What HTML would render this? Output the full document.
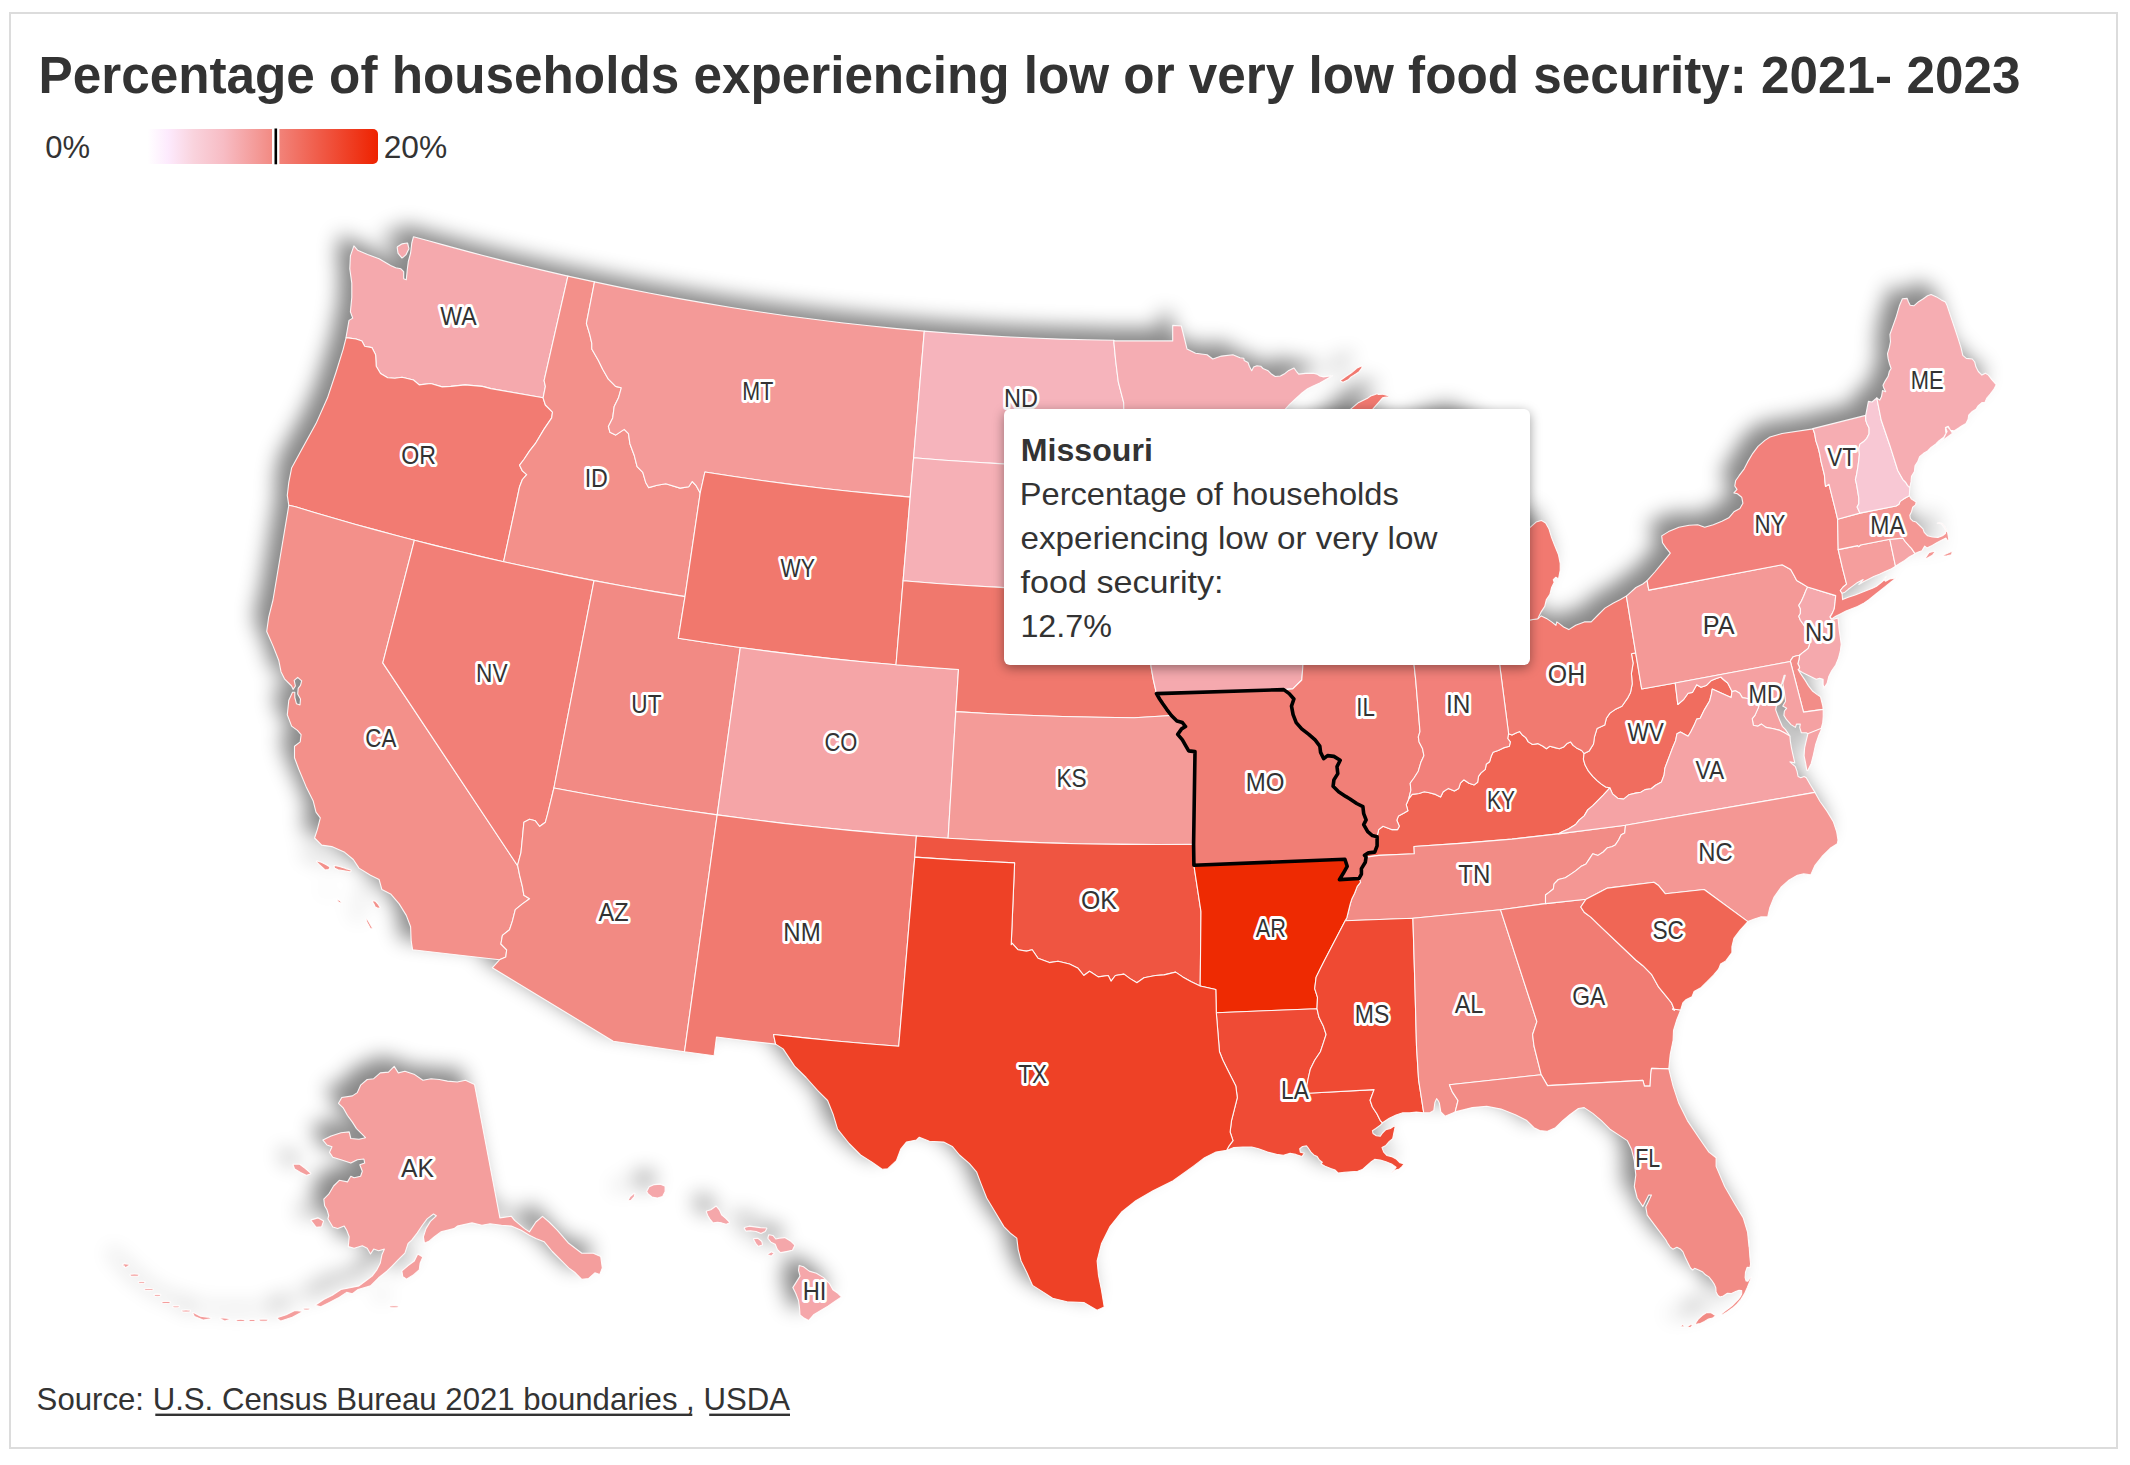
<!DOCTYPE html>
<html lang="en"><head><meta charset="utf-8"><title>Percentage of households experiencing low or very low food security: 2021- 2023</title>
<style>
html,body{margin:0;padding:0;background:#fff;}
body{width:2130px;height:1465px;position:relative;overflow:hidden;font-family:"Liberation Sans",sans-serif;color:#333;}
#frame{position:absolute;left:9px;top:12px;width:2105px;height:1433px;border:2px solid #dcdcdc;}
svg{position:absolute;left:0;top:0;}
text{font-family:"Liberation Sans",sans-serif;}
#tip{position:absolute;left:1003.5px;top:409px;width:526.5px;height:255.5px;background:#fff;border-radius:6px;box-shadow:0 3px 12px rgba(0,0,0,.4);}
</style></head><body>
<div id="frame"></div>
<svg id="map" width="2130" height="1465" viewBox="0 0 2130 1465">
<defs><filter id="sh" x="-5%" y="-5%" width="110%" height="110%" color-interpolation-filters="sRGB"><feGaussianBlur in="SourceAlpha" stdDeviation="10"/><feOffset dx="-12" dy="-12" result="b"/><feFlood flood-color="#000" flood-opacity="0.47"/><feComposite in2="b" operator="in"/><feMerge><feMergeNode/><feMergeNode in="SourceGraphic"/></feMerge></filter></defs>
<g filter="url(#sh)" stroke="#fff" stroke-width="1.1" stroke-opacity="0.9" stroke-linejoin="round">
<path d="M413.5,236.7L428.5,240.7L442.4,244.6L456.2,248.4L470.1,252.1L484.0,255.8L498.0,259.4L511.9,262.9L525.9,266.3L539.9,269.6L553.9,272.9L567.9,276.1L544.1,380.6L545.4,386.4L543.1,397.8L490.9,388.6L482.3,386.4L465.1,384.9L450.8,386.4L442.2,386.9L430.7,383.5L419.2,384.9L413.5,380.0L402.0,377.2L394.9,378.3L387.7,377.8L380.5,373.5L376.2,366.3L375.6,354.8L371.9,347.6L364.7,346.2L361.9,341.1L356.1,339.0L346.1,337.6L346.1,337.0L347.5,329.0L349.0,320.4L352.7,318.1L350.4,311.8L351.8,297.5L351.8,283.1L349.8,268.8L350.4,255.9L353.9,245.9L357.6,250.2L367.6,254.5L379.1,258.8L390.6,265.4L395.7,267.7L400.9,268.8L403.7,271.7L403.7,278.8L406.3,279.7L407.2,270.2L408.3,261.6L410.6,253.0L411.8,243.0L413.5,236.7ZM397.4,246.8L397.2,247.4L398.0,253.1L398.1,253.4L401.6,257.7L402.0,257.9L402.4,257.8L405.8,254.9L406.0,254.7L408.8,249.0L408.9,248.6L407.7,243.5L407.5,243.1L407.1,243.0L401.9,243.9L401.7,244.0Z" fill="#f5a9ad"/>
<path d="M346.1,337.6L356.1,339.0L361.9,341.1L364.7,346.2L371.9,347.6L375.6,354.8L376.2,366.3L380.5,373.5L387.7,377.8L394.9,378.3L402.0,377.2L413.5,380.0L419.2,384.9L430.7,383.5L442.2,386.9L450.8,386.4L465.1,384.9L482.3,386.4L490.9,388.6L543.1,397.8L545.4,405.0L552.5,412.2L551.7,417.9L543.9,429.4L535.3,443.7L529.6,450.9L523.9,459.5L519.6,465.2L522.4,470.9L526.7,474.7L522.4,479.5L519.6,486.7L503.6,561.7L481.3,556.6L458.9,551.3L436.7,545.9L414.4,540.2L394.5,535.0L374.6,529.6L354.8,524.2L335.0,518.5L315.2,512.7L295.5,506.8L288.8,505.3L287.3,495.3L288.8,482.4L291.6,468.1L301.7,449.4L316.0,423.6L327.5,397.8L336.1,372.0L343.2,349.1L346.1,337.6Z" fill="#f27b72"/>
<path d="M567.9,276.1L594.5,281.9L586.4,323.3L589.8,334.7L591.8,343.3L591.8,349.1L598.4,360.6L602.7,369.2L608.4,379.2L615.6,386.4L621.3,387.8L618.5,397.8L614.2,406.4L612.7,417.9L608.4,426.5L609.9,432.2L615.6,435.1L624.2,429.4L628.5,433.7L629.9,443.7L634.2,455.2L637.1,466.6L642.8,472.4L645.7,482.4L648.6,487.6L657.2,485.3L665.8,483.8L680.1,488.1L688.7,486.7L692.2,481.5L695.9,485.3L700.2,493.0L685.0,596.6L654.6,591.6L624.3,586.2L594.0,580.6L563.8,574.6L533.7,568.3L503.6,561.7L519.6,486.7L522.4,479.5L526.7,474.7L522.4,470.9L519.6,465.2L523.9,459.5L529.6,450.9L535.3,443.7L543.9,429.4L551.7,417.9L552.5,412.2L545.4,405.0L543.1,397.8L545.4,386.4L544.1,380.6L567.9,276.1Z" fill="#f3908a"/>
<path d="M288.8,505.3L295.5,506.8L315.2,512.7L335.0,518.5L354.8,524.2L374.6,529.6L394.5,535.0L414.4,540.2L382.8,662.9L518.6,867.2L517.6,865.2L519.6,875.2L522.4,886.7L523.9,895.3L529.6,898.7L522.4,903.9L515.3,909.6L512.4,921.1L509.5,929.7L502.4,935.4L500.9,944.0L506.7,949.8L505.8,956.9L499.5,959.8L412.6,949.8L411.2,941.2L410.6,926.8L406.3,915.4L399.2,903.9L390.6,893.9L381.9,889.6L379.1,879.5L370.5,875.2L359.0,868.1L353.3,859.5L344.7,852.3L331.8,846.6L321.7,845.1L314.6,838.0L317.4,829.4L320.3,817.9L316.0,812.2L313.1,800.7L306.0,786.4L298.8,769.2L294.5,757.7L294.5,746.2L300.2,741.9L301.1,734.7L297.4,730.4L291.6,726.1L287.3,714.7L288.8,700.3L290.8,696.0L292.5,692.3L294.8,692.3L294.8,697.5L296.5,703.8L300.0,704.9L300.5,698.9L297.7,694.0L298.2,688.3L300.5,685.4L301.7,680.8L297.7,677.4L294.2,680.3L295.4,686.0L293.1,689.4L291.6,686.0L284.5,678.8L281.0,671.7L278.7,660.2L273.0,645.9L266.7,631.5L268.7,617.2L273.0,600.0L288.8,505.3ZM377.8,908.3L378.2,908.3L379.8,907.9L380.2,907.6L380.1,907.1L378.1,904.2L378.1,904.2L375.6,901.3L375.3,901.1L372.8,900.7L372.4,900.8L372.2,901.2L372.3,901.6L373.9,904.0L375.1,906.8L375.4,907.1ZM370.2,928.2L370.5,928.4L371.7,928.8L372.2,928.8L372.4,928.4L372.4,928.0L370.8,925.2L368.7,921.5L368.7,921.4L367.0,919.0L366.7,918.8L366.4,918.8L366.1,919.0L366.1,919.4L366.5,921.1L366.5,921.2L368.1,924.4L368.2,924.5ZM338.1,869.8L338.2,869.9L344.0,870.7L350.1,871.9L350.4,871.9L350.7,871.6L351.1,870.8L351.1,870.3L350.8,870.0L345.9,868.6L339.3,866.5L339.3,866.5L334.8,865.5L334.4,865.5L334.1,865.8L334.1,866.2L334.5,868.0L334.8,868.3ZM340.6,903.0L341.0,903.0L341.3,902.6L341.2,902.1L340.0,900.7L339.8,900.6L337.7,899.8L337.3,899.8L337.0,900.0L337.0,900.3L337.1,900.7L338.6,902.1L338.8,902.2ZM322.4,867.3L324.8,869.7L325.3,869.9L328.6,869.5L329.0,869.2L329.8,867.5L329.8,867.1L329.6,866.8L326.3,864.8L326.3,864.7L321.4,862.3L321.3,862.2L317.2,861.0L316.7,861.1L316.5,861.5L316.6,861.9L319.1,864.4L319.1,864.4Z" fill="#f3908a"/>
<path d="M414.4,540.2L436.7,545.9L458.9,551.3L481.3,556.6L503.6,561.7L533.7,568.3L563.8,574.6L594.0,580.6L553.9,788.0L547.7,813.6L545.4,822.2L539.6,826.5L535.3,820.8L529.6,819.3L523.9,822.2L522.4,838.0L521.0,852.3L517.6,865.2L518.6,867.2L382.8,662.9L414.4,540.2Z" fill="#f27f77"/>
<path d="M594.0,580.6L624.3,586.2L654.6,591.6L685.0,596.6L678.3,638.3L709.3,643.0L740.3,647.5L717.2,814.9L684.4,810.2L651.7,805.2L619.0,799.8L586.4,794.0L553.9,788.0L594.0,580.6Z" fill="#f28a84"/>
<path d="M553.9,788.0L586.4,794.0L619.0,799.8L651.7,805.2L684.4,810.2L717.2,814.9L684.5,1051.8L613.3,1041.2L492.3,967.8L499.5,959.8L505.8,956.9L506.7,949.8L500.9,944.0L502.4,935.4L509.5,929.7L512.4,921.1L515.3,909.6L522.4,903.9L529.6,898.7L523.9,895.3L522.4,886.7L519.6,875.2L517.6,865.2L521.0,852.3L522.4,838.0L523.9,822.2L529.6,819.3L535.3,820.8L539.6,826.5L545.4,822.2L547.7,813.6L553.9,788.0Z" fill="#f28a83"/>
<path d="M594.5,281.9L621.7,287.6L649.0,293.0L676.3,298.1L703.7,302.9L731.2,307.5L758.6,311.7L786.2,315.7L813.7,319.3L841.3,322.7L869.0,325.8L896.6,328.6L924.3,331.1L913.6,457.7L910.2,497.1L880.8,494.4L851.4,491.5L822.0,488.2L792.7,484.6L763.4,480.7L734.1,476.5L704.9,472.0L700.2,493.0L695.9,485.3L692.2,481.5L688.7,486.7L680.1,488.1L665.8,483.8L657.2,485.3L648.6,487.6L645.7,482.4L642.8,472.4L637.1,466.6L634.2,455.2L629.9,443.7L628.5,433.7L624.2,429.4L615.6,435.1L609.9,432.2L608.4,426.5L612.7,417.9L614.2,406.4L618.5,397.8L621.3,387.8L615.6,386.4L608.4,379.2L602.7,369.2L598.4,360.6L591.8,349.1L591.8,343.3L589.8,334.7L586.4,323.3L594.5,281.9Z" fill="#f49a98"/>
<path d="M700.2,493.0L704.9,472.0L734.1,476.5L763.4,480.7L792.7,484.6L822.0,488.2L851.4,491.5L880.8,494.4L910.2,497.1L903.1,580.8L896.0,664.8L864.8,662.0L833.6,658.9L802.5,655.4L771.4,651.6L740.3,647.5L709.3,643.0L678.3,638.3L685.0,596.6L700.2,493.0Z" fill="#f1786d"/>
<path d="M740.3,647.5L771.4,651.6L802.5,655.4L833.6,658.9L864.8,662.0L896.0,664.8L927.2,667.3L958.5,669.5L955.8,711.6L948.1,838.2L916.4,836.0L883.1,833.4L849.8,830.4L816.6,827.0L783.4,823.4L750.3,819.3L717.2,814.9L740.3,647.5Z" fill="#f5a5a7"/>
<path d="M717.2,814.9L750.3,819.3L783.4,823.4L816.6,827.0L849.8,830.4L883.1,833.4L916.4,836.0L914.8,857.1L898.7,1046.2L867.4,1043.7L836.1,1041.0L804.8,1037.9L773.5,1034.5L775.6,1044.1L775.6,1044.1L746.1,1040.7L716.5,1037.0L714.1,1055.8L684.5,1051.8L717.2,814.9Z" fill="#f17a70"/>
<path d="M924.3,331.1L951.4,333.2L978.4,335.1L1005.4,336.7L1032.5,338.0L1059.6,339.1L1086.6,339.8L1113.7,340.3L1115.7,361.0L1118.3,381.8L1123.7,402.6L1124.1,423.5L1126.3,444.3L1131.6,465.3L1131.6,467.8L1100.4,467.4L1069.3,466.6L1038.1,465.5L1006.9,464.1L975.8,462.3L944.7,460.2L913.6,457.7L924.3,331.1Z" fill="#f6b4bc"/>
<path d="M913.6,457.7L944.7,460.2L975.8,462.3L1006.9,464.1L1038.1,465.5L1069.3,466.6L1100.4,467.4L1131.6,467.8L1123.0,481.9L1134.7,494.6L1134.3,570.1L1129.8,570.1L1130.4,578.5L1134.3,586.9L1131.2,597.5L1134.1,612.6L1126.5,608.0L1117.4,601.1L1105.2,596.8L1090.0,596.9L1071.8,590.2L1038.1,589.1L1004.3,587.6L970.6,585.7L936.8,583.5L903.1,580.8L910.2,497.1L913.6,457.7Z" fill="#f6b0b6"/>
<path d="M903.1,580.8L936.8,583.5L970.6,585.7L1004.3,587.6L1038.1,589.1L1071.8,590.2L1090.0,596.9L1105.2,596.8L1117.4,601.1L1126.5,608.0L1134.1,612.6L1137.2,620.7L1140.2,633.3L1144.8,646.0L1150.1,656.5L1151.1,667.1L1153.3,679.7L1156.5,693.6L1159.6,699.0L1162.8,703.8L1166.7,709.3L1171.4,715.5L1134.2,717.7L1098.5,717.3L1062.8,716.5L1027.1,715.3L991.5,713.7L955.8,711.6L958.5,669.5L927.2,667.3L896.0,664.8L903.1,580.8Z" fill="#f0786d"/>
<path d="M955.8,711.6L991.5,713.7L1027.1,715.3L1062.8,716.5L1098.5,717.3L1134.2,717.7L1171.4,715.5L1176.9,721.0L1182.4,722.6L1185.5,726.5L1181.6,728.9L1177.7,734.4L1182.4,739.9L1185.5,745.4L1188.7,750.9L1195.0,751.6L1193.6,844.2L1158.5,844.5L1123.4,844.4L1088.3,844.0L1053.3,843.1L1018.2,841.9L983.1,840.2L948.1,838.2L955.8,711.6Z" fill="#f49b98"/>
<path d="M916.4,836.0L948.1,838.2L983.1,840.2L1018.2,841.9L1053.3,843.1L1088.3,844.0L1123.4,844.4L1158.5,844.5L1193.6,844.2L1193.9,865.3L1201.0,911.7L1200.2,986.0L1200.2,986.1L1191.3,981.8L1182.7,976.9L1175.6,972.1L1164.1,974.9L1155.5,975.5L1144.0,977.8L1136.9,982.7L1129.7,978.4L1124.0,974.1L1115.4,975.5L1111.1,981.2L1108.2,975.5L1098.2,976.9L1089.6,971.2L1083.8,975.5L1078.1,968.3L1069.5,964.0L1058.0,961.2L1049.4,962.6L1038.0,958.3L1032.2,949.7L1026.5,951.1L1017.9,949.7L1012.2,943.4L1011.2,944.7L1014.6,862.9L981.3,861.3L948.1,859.4L914.8,857.1L916.4,836.0Z" fill="#ef5541"/>
<path d="M1156.5,693.6L1283.7,689.6L1289.2,693.6L1293.9,699.0L1291.5,706.1L1293.1,714.7L1296.2,722.6L1301.7,728.9L1308.8,734.4L1315.1,739.9L1319.8,746.1L1320.6,752.4L1323.7,758.7L1327.6,755.6L1333.9,756.4L1340.2,760.3L1337.0,766.6L1337.8,773.6L1333.9,779.9L1333.1,786.2L1338.6,791.7L1345.7,796.4L1349.6,798.7L1356.7,803.5L1362.9,806.6L1363.7,813.7L1366.1,819.9L1363.7,824.6L1367.7,831.7L1372.4,835.6L1377.1,836.7L1377.1,845.8L1374.7,852.1L1368.4,852.9L1364.5,855.3L1366.1,857.1L1365.3,862.3L1361.4,868.6L1361.4,874.1L1359.0,878.5L1339.4,879.6L1343.3,873.3L1347.2,866.3L1344.9,859.2L1193.9,865.3L1193.6,844.2L1195.0,751.6L1188.7,750.9L1185.5,745.4L1182.4,739.9L1177.7,734.4L1181.6,728.9L1185.5,726.5L1182.4,722.6L1176.9,721.0L1171.4,715.5L1166.7,709.3L1162.8,703.8L1159.6,699.0L1156.5,693.6Z" fill="#f17e75"/>
<path d="M1377.1,836.7L1378.7,829.6L1383.0,826.2L1391.6,829.6L1397.6,829.6L1399.3,826.2L1396.8,820.2L1398.5,815.9L1403.6,813.3L1407.9,810.7L1406.2,804.7L1408.8,798.7L1412.2,794.4L1419.1,793.5L1424.3,791.8L1429.4,792.7L1435.5,794.4L1440.6,797.0L1443.2,791.8L1448.4,788.4L1454.4,790.9L1458.7,788.4L1460.4,783.2L1463.8,779.8L1469.0,783.2L1474.2,784.9L1477.6,782.3L1478.5,776.3L1481.0,772.9L1485.3,769.4L1486.2,764.3L1489.6,761.7L1491.4,755.7L1493.1,752.2L1498.2,750.5L1503.4,747.9L1509.4,746.2L1510.3,741.9L1507.7,738.5L1508.6,733.7L1512.0,735.0L1515.4,733.3L1519.7,731.6L1522.3,735.0L1525.8,737.6L1528.3,741.9L1532.6,744.5L1537.8,743.6L1543.0,746.2L1546.4,748.8L1549.8,746.2L1554.1,747.4L1559.3,748.8L1563.6,747.1L1567.0,743.6L1570.5,741.9L1573.1,745.4L1576.5,747.9L1581.7,750.5L1584.1,753.5L1583.4,759.1L1585.1,765.1L1588.5,771.2L1592.8,776.3L1597.1,780.6L1601.4,784.1L1605.7,787.0L1609.9,787.9L1603.2,795.2L1598.0,800.4L1592.8,805.6L1587.7,809.9L1584.2,815.9L1579.1,820.2L1575.6,824.5L1568.8,828.8L1562.7,831.4L1558.1,833.9L1512.0,839.1L1460.4,843.4L1414.0,846.5L1414.3,853.7L1378.7,855.4L1366.1,857.1L1364.5,855.3L1368.4,852.9L1374.7,852.1L1377.1,845.8L1377.1,836.7Z" fill="#f06453"/>
<path d="M1366.1,857.1L1378.7,855.4L1414.3,853.7L1414.0,846.5L1460.4,843.4L1512.0,839.1L1558.1,833.9L1625.5,825.3L1624.7,833.1L1621.2,834.8L1618.6,840.0L1615.2,845.1L1611.8,846.8L1607.5,847.7L1603.2,852.0L1598.0,855.4L1592.8,853.7L1589.4,858.9L1586.0,864.0L1580.8,866.6L1575.6,870.9L1570.5,874.4L1565.3,877.8L1558.4,879.5L1554.1,883.8L1553.3,889.0L1549.0,892.4L1545.5,895.0L1545.5,903.6L1500.5,909.7L1412.9,918.2L1345.2,920.8L1346.9,917.4L1348.6,910.5L1350.3,903.6L1352.0,898.4L1354.6,893.3L1357.2,886.4L1360.6,882.1L1359.0,878.5L1361.4,874.1L1361.4,868.6L1365.3,862.3L1366.1,857.1Z" fill="#f28c86"/>
<path d="M1193.9,865.3L1344.9,859.2L1347.2,866.3L1343.3,873.3L1339.4,879.6L1359.0,878.5L1360.6,882.1L1357.2,886.4L1354.6,893.3L1352.0,898.4L1350.3,903.6L1348.6,910.5L1346.9,917.4L1345.2,920.8L1324.7,960.0L1320.4,968.6L1316.1,977.2L1314.7,988.7L1317.5,997.3L1317.0,1008.7L1216.3,1012.7L1215.8,989.5L1200.2,986.0L1201.0,911.7L1193.9,865.3Z" fill="#ee2a02"/>
<path d="M1216.3,1012.7L1317.0,1008.7L1319.0,1017.3L1323.3,1025.9L1326.1,1034.5L1323.3,1043.1L1320.4,1051.7L1314.7,1060.3L1310.4,1068.9L1308.4,1077.5L1306.7,1086.1L1307.5,1093.3L1374.1,1089.6L1370.1,1100.3L1372.4,1107.0L1376.9,1113.8L1380.3,1120.6L1382.5,1122.8L1380.3,1125.1L1375.8,1128.5L1372.4,1130.7L1373.0,1133.5L1376.3,1135.8L1380.3,1136.3L1382.5,1133.0L1385.9,1129.6L1390.4,1128.5L1395.5,1125.1L1393.8,1133.0L1392.7,1138.6L1389.3,1141.4L1385.9,1145.4L1382.0,1147.6L1383.7,1152.1L1387.0,1155.5L1391.5,1156.6L1396.1,1158.9L1400.0,1162.8L1404.2,1163.9L1401.7,1166.8L1399.4,1169.0L1395.5,1170.1L1391.5,1173.0L1393.8,1170.1L1396.1,1167.3L1391.5,1163.9L1385.9,1161.7L1380.3,1160.0L1374.6,1159.4L1371.3,1161.7L1366.8,1165.6L1362.3,1169.6L1357.7,1171.3L1351.0,1171.8L1344.2,1172.4L1338.0,1173.0L1335.2,1170.1L1330.7,1168.5L1325.1,1166.2L1321.1,1163.9L1322.3,1162.3L1319.4,1160.0L1317.2,1156.6L1313.8,1154.9L1311.0,1152.1L1308.7,1148.7L1306.5,1145.9L1302.5,1146.5L1299.7,1148.7L1300.3,1152.1L1304.2,1153.2L1302.0,1156.6L1295.8,1154.4L1290.1,1153.2L1283.4,1155.3L1276.6,1154.4L1267.6,1152.1L1258.6,1148.7L1251.8,1147.0L1242.8,1147.0L1233.8,1147.6L1226.5,1150.4L1228.7,1146.4L1233.0,1140.6L1230.1,1132.0L1231.5,1120.6L1234.4,1109.1L1237.3,1097.6L1235.8,1086.1L1231.5,1077.5L1227.2,1068.9L1222.9,1060.3L1219.5,1051.7L1216.3,1012.7Z" fill="#ef4b35"/>
<path d="M1345.2,920.8L1412.9,918.2L1415.0,988.7L1416.5,1046.0L1418.6,1080.0L1423.7,1112.7L1416.3,1112.1L1409.6,1112.7L1402.8,1112.7L1396.1,1114.9L1389.3,1118.3L1382.5,1122.8L1380.3,1120.6L1376.9,1113.8L1372.4,1107.0L1370.1,1100.3L1374.1,1089.6L1307.5,1093.3L1306.7,1086.1L1308.4,1077.5L1310.4,1068.9L1314.7,1060.3L1320.4,1051.7L1323.3,1043.1L1326.1,1034.5L1323.3,1025.9L1319.0,1017.3L1317.0,1008.7L1317.5,997.3L1314.7,988.7L1316.1,977.2L1320.4,968.6L1324.7,960.0L1345.2,920.8Z" fill="#ef4a33"/>
<path d="M1412.9,918.2L1500.5,909.7L1536.9,1021.6L1532.6,1034.5L1534.0,1046.0L1538.3,1063.2L1541.2,1074.7L1449.4,1084.7L1452.3,1091.9L1458.0,1100.5L1455.2,1111.9L1445.1,1116.2L1440.8,1111.9L1439.4,1103.3L1438.6,1101.4L1436.6,1098.6L1434.9,1102.5L1433.8,1110.4L1429.9,1112.7L1423.7,1112.7L1418.6,1080.0L1416.5,1046.0L1415.0,988.7L1412.9,918.2Z" fill="#f3908a"/>
<path d="M1500.5,909.7L1545.5,903.6L1586.0,899.3L1580.8,907.0L1584.2,912.2L1591.1,917.4L1598.0,924.2L1635.8,960.0L1642.9,965.7L1651.5,974.3L1658.7,987.2L1665.9,995.8L1671.6,1003.0L1674.5,1010.2L1672.5,1009.0L1680.7,1010.0L1676.6,1020.3L1673.5,1030.5L1673.1,1040.3L1670.2,1054.6L1668.8,1068.9L1651.5,1068.4L1650.7,1074.7L1650.1,1086.1L1644.4,1086.1L1642.9,1080.4L1547.5,1085.6L1541.2,1074.7L1538.3,1063.2L1534.0,1046.0L1532.6,1034.5L1536.9,1021.6L1500.5,909.7Z" fill="#f17c73"/>
<path d="M1455.2,1111.9L1458.0,1100.5L1452.3,1091.9L1449.4,1084.7L1541.2,1074.7L1547.5,1085.6L1642.9,1080.4L1644.4,1086.1L1650.1,1086.1L1650.7,1074.7L1651.5,1068.4L1668.8,1068.9L1673.1,1086.1L1678.8,1103.3L1687.4,1120.6L1698.9,1137.8L1708.9,1152.1L1716.1,1157.8L1716.1,1166.4L1724.7,1186.5L1734.7,1203.7L1743.3,1218.0L1747.6,1232.4L1749.0,1246.7L1748.9,1240.0L1749.2,1246.8L1749.9,1257.1L1750.6,1263.9L1749.9,1267.6L1747.2,1267.3L1745.5,1272.1L1745.1,1277.5L1746.1,1281.0L1747.8,1281.3L1749.9,1278.2L1751.6,1277.2L1749.9,1281.0L1747.2,1287.8L1744.4,1293.9L1741.0,1299.4L1736.9,1304.2L1732.2,1308.3L1727.4,1311.7L1722.6,1314.7L1720.9,1314.4L1724.6,1311.3L1728.7,1308.3L1732.2,1305.5L1735.6,1302.1L1738.3,1299.4L1740.3,1296.7L1741.7,1293.9L1741.7,1290.5L1739.0,1290.2L1735.6,1291.5L1731.5,1293.6L1727.4,1293.2L1723.3,1296.0L1719.9,1297.0L1717.8,1295.3L1716.1,1291.9L1715.8,1287.8L1714.4,1284.4L1711.7,1280.3L1708.9,1276.9L1705.5,1274.8L1702.8,1272.1L1698.7,1270.0L1694.6,1268.3L1692.6,1270.0L1690.5,1268.0L1687.8,1262.5L1685.1,1257.1L1683.0,1251.9L1680.3,1248.9L1676.9,1247.2L1672.8,1249.2L1670.0,1246.8L1667.3,1242.7L1665.9,1240.0L1655.8,1226.6L1647.2,1215.2L1645.8,1207.1L1651.5,1195.1L1648.7,1195.1L1642.9,1206.6L1637.2,1198.0L1634.3,1186.5L1635.8,1175.0L1634.3,1160.7L1631.5,1149.2L1627.2,1140.6L1618.6,1134.9L1610.0,1129.2L1601.4,1120.6L1592.8,1113.4L1584.2,1107.6L1578.4,1108.5L1569.8,1114.8L1562.7,1120.6L1555.5,1127.7L1546.9,1131.4L1539.7,1130.6L1534.0,1127.7L1526.8,1120.6L1515.4,1114.8L1501.0,1109.1L1486.7,1106.2L1472.4,1107.6L1455.2,1111.9ZM1700.2,1323.5L1700.3,1323.4L1704.4,1321.4L1704.4,1321.4L1708.5,1319.0L1712.5,1318.0L1712.7,1317.9L1715.1,1316.2L1715.3,1315.8L1715.0,1315.3L1711.3,1312.9L1711.0,1312.8L1706.9,1312.5L1706.6,1312.6L1702.5,1315.3L1702.4,1315.4L1698.3,1319.1L1698.2,1319.2L1695.5,1323.3L1695.4,1323.7L1695.7,1324.1L1696.1,1324.2ZM1692.3,1325.7L1692.4,1325.3L1692.3,1324.9L1691.9,1324.8L1690.2,1324.8L1689.8,1324.9L1687.8,1326.6L1687.6,1327.0L1687.8,1327.4L1688.2,1327.6L1690.6,1327.2L1690.9,1327.1ZM1683.1,1324.7L1682.7,1324.4L1682.3,1324.6L1680.9,1326.0L1680.7,1326.3L1680.9,1326.7L1681.3,1326.9L1683.7,1326.9L1684.1,1326.8L1684.2,1326.4L1684.1,1326.0Z" fill="#f28b85"/>
<path d="M914.8,857.1L948.1,859.4L981.3,861.3L1014.6,862.9L1011.2,944.7L1012.2,943.4L1017.9,949.7L1026.5,951.1L1032.2,949.7L1038.0,958.3L1049.4,962.6L1058.0,961.2L1069.5,964.0L1078.1,968.3L1083.8,975.5L1089.6,971.2L1098.2,976.9L1108.2,975.5L1111.1,981.2L1115.4,975.5L1124.0,974.1L1129.7,978.4L1136.9,982.7L1144.0,977.8L1155.5,975.5L1164.1,974.9L1175.6,972.1L1182.7,976.9L1191.3,981.8L1200.2,986.1L1200.2,986.0L1215.8,989.5L1216.3,1012.7L1219.5,1051.7L1222.9,1060.3L1227.2,1068.9L1231.5,1077.5L1235.8,1086.1L1237.3,1097.6L1234.4,1109.1L1231.5,1120.6L1230.1,1132.0L1233.0,1140.6L1228.7,1146.4L1226.5,1150.4L1216.1,1152.1L1204.6,1157.8L1193.1,1166.4L1173.1,1180.8L1153.0,1190.8L1135.8,1200.8L1121.4,1212.3L1110.0,1226.6L1101.4,1243.8L1097.1,1261.0L1098.5,1275.4L1101.4,1289.7L1104.2,1306.9L1097.1,1310.3L1084.2,1302.6L1067.0,1301.7L1052.6,1298.3L1044.0,1292.6L1032.6,1285.4L1026.8,1272.5L1021.1,1261.0L1018.2,1249.6L1016.8,1238.1L1011.1,1233.8L1003.9,1226.6L995.3,1212.3L986.7,1198.0L981.0,1183.6L976.7,1172.2L969.5,1163.6L959.5,1155.0L952.3,1146.4L943.7,1142.1L929.4,1141.2L919.3,1137.2L916.5,1140.0L906.4,1142.1L900.7,1149.2L896.4,1160.7L887.8,1168.7L882.1,1169.3L872.0,1162.1L860.6,1155.0L849.1,1143.5L837.6,1129.2L833.3,1114.8L827.6,1100.5L817.5,1090.4L806.1,1077.5L794.6,1066.1L783.1,1048.9L775.6,1044.1L773.5,1034.5L804.8,1037.9L836.1,1041.0L867.4,1043.7L898.7,1046.2L914.8,857.1Z" fill="#ee4126"/>
<path d="M1584.1,753.5L1589.2,750.9L1593.5,744.0L1594.4,737.2L1597.0,728.6L1604.7,725.1L1606.4,718.2L1609.9,713.1L1615.0,709.6L1621.9,706.2L1627.9,697.6L1630.5,692.4L1632.2,683.8L1631.4,673.5L1633.1,663.2L1631.4,653.7L1635.7,652.9L1641.7,689.0L1675.2,683.0L1677.8,704.5L1683.8,699.3L1688.1,693.3L1692.4,692.4L1696.7,684.7L1701.0,687.3L1706.2,685.6L1711.4,680.4L1715.7,678.7L1720.8,677.0L1723.4,679.5L1727.7,683.0L1730.3,688.1L1732.0,691.6L1731.1,697.6L1712.2,689.0L1711.4,694.2L1709.6,701.0L1704.5,709.6L1700.2,718.2L1696.7,719.1L1694.2,725.1L1690.7,732.0L1688.1,736.3L1680.4,732.0L1677.0,733.7L1675.6,740.6L1672.7,747.5L1670.1,754.4L1667.5,761.2L1664.9,768.1L1664.1,775.0L1661.5,781.9L1655.5,785.3L1651.2,788.8L1645.1,789.6L1640.8,792.2L1635.7,793.1L1628.8,794.8L1623.6,799.1L1617.6,798.2L1612.5,793.9L1609.9,787.9L1605.7,787.0L1601.4,784.1L1597.1,780.6L1592.8,776.3L1588.5,771.2L1585.1,765.1L1583.4,759.1L1584.1,753.5Z" fill="#f06d5f"/>
<path d="M1494.6,625.5L1537.8,618.8L1541.3,615.9L1546.4,618.4L1551.6,621.9L1555.9,625.3L1556.8,621.9L1559.3,623.6L1563.6,627.0L1568.8,629.6L1575.7,625.3L1584.3,621.9L1591.2,621.9L1598.0,615.0L1604.9,608.1L1613.5,603.0L1620.4,599.5L1626.4,596.1L1635.7,652.9L1631.4,653.7L1633.1,663.2L1631.4,673.5L1632.2,683.8L1630.5,692.4L1627.9,697.6L1621.9,706.2L1615.0,709.6L1609.9,713.1L1606.4,718.2L1604.7,725.1L1597.0,728.6L1594.4,737.2L1593.5,744.0L1589.2,750.9L1584.1,753.5L1581.7,750.5L1576.5,747.9L1573.1,745.4L1570.5,741.9L1567.0,743.6L1563.6,747.1L1559.3,748.8L1554.1,747.4L1549.8,746.2L1546.4,748.8L1543.0,746.2L1537.8,743.6L1532.6,744.5L1528.3,741.9L1525.8,737.6L1522.3,735.0L1519.7,731.6L1515.4,733.3L1512.0,735.0L1508.6,733.7L1494.6,625.5Z" fill="#f17a70"/>
<path d="M1626.4,596.1L1635.9,587.5L1642.8,584.0L1647.1,580.6L1648.8,590.1L1782.1,564.8L1790.7,569.4L1794.1,575.4L1796.7,580.6L1802.7,584.0L1807.0,586.6L1807.6,587.0L1805.9,590.5L1803.6,596.2L1801.3,601.3L1798.8,605.4L1800.4,608.8L1800.4,613.4L1798.8,616.3L1800.4,620.3L1804.1,625.4L1808.2,630.6L1810.5,637.5L1809.3,645.5L1808.2,648.4L1805.3,650.7L1802.4,652.9L1799.6,655.2L1796.7,655.8L1793.3,656.7L1791.0,659.8L1790.4,661.5L1675.2,683.0L1641.7,689.0L1635.7,652.9L1626.4,596.1Z" fill="#f49997"/>
<path d="M1807.6,587.0L1835.7,595.6L1835.1,601.9L1834.0,609.9L1832.2,613.4L1829.9,616.8L1831.1,619.1L1834.5,619.1L1838.0,618.0L1838.5,622.6L1839.1,629.4L1840.3,637.5L1841.2,644.3L1840.3,651.2L1838.5,658.1L1835.7,665.0L1831.7,670.7L1828.8,676.5L1827.1,683.3L1824.0,687.9L1823.1,684.5L1823.1,679.3L1819.6,678.2L1816.2,679.3L1811.6,677.0L1807.0,674.7L1802.4,672.4L1798.4,670.1L1799.6,667.3L1797.8,663.8L1799.0,659.3L1799.6,655.2L1802.4,652.9L1805.3,650.7L1808.2,648.4L1809.3,645.5L1810.5,637.5L1808.2,630.6L1804.1,625.4L1800.4,620.3L1798.8,616.3L1800.4,613.4L1800.4,608.8L1798.8,605.4L1801.3,601.3L1803.6,596.2L1805.9,590.5L1807.6,587.0Z" fill="#f5a9ad"/>
<path d="M1790.4,661.5L1791.0,659.8L1793.3,656.7L1796.7,655.8L1799.6,655.2L1799.0,659.3L1797.8,663.8L1799.6,667.3L1798.4,670.1L1798.1,669.5L1800.8,673.9L1805.2,680.4L1808.5,685.9L1812.8,691.3L1817.2,694.6L1820.5,696.8L1822.7,705.5L1823.2,709.4L1803.5,712.1L1790.4,661.5Z" fill="#f28d88"/>
<path d="M1675.2,683.0L1790.4,661.5L1803.5,712.1L1823.2,709.4L1823.2,716.5L1822.7,723.0L1821.0,729.0L1808.5,733.9L1806.3,732.8L1801.4,732.8L1799.7,727.4L1800.3,724.1L1796.5,724.1L1795.4,727.4L1791.0,724.6L1786.6,719.7L1783.9,715.4L1784.4,711.0L1786.6,708.3L1782.8,706.1L1785.5,701.2L1784.4,692.4L1782.8,683.7L1785.3,675.2L1784.2,675.2L1781.7,683.7L1779.0,692.4L1776.2,706.6L1775.7,709.9L1777.3,714.3L1779.5,719.7L1782.3,726.3L1785.5,729.6L1789.9,736.1L1784.4,732.8L1779.0,730.1L1772.4,728.5L1765.9,727.4L1761.5,724.1L1757.7,726.3L1753.3,725.2L1752.2,718.6L1754.9,715.4L1758.8,706.6L1752.6,700.2L1747.5,698.5L1742.3,697.6L1739.7,693.3L1735.4,690.7L1732.0,691.6L1730.3,688.1L1727.7,683.0L1723.4,679.5L1720.8,677.0L1715.7,678.7L1711.4,680.4L1706.2,685.6L1701.0,687.3L1696.7,684.7L1692.4,692.4L1688.1,693.3L1683.8,699.3L1677.8,704.5L1675.2,683.0Z" fill="#f5a1a2"/>
<path d="M1609.9,787.9L1612.5,793.9L1617.6,798.2L1623.6,799.1L1628.8,794.8L1635.7,793.1L1640.8,792.2L1645.1,789.6L1651.2,788.8L1655.5,785.3L1661.5,781.9L1664.1,775.0L1664.9,768.1L1667.5,761.2L1670.1,754.4L1672.7,747.5L1675.6,740.6L1677.0,733.7L1680.4,732.0L1688.1,736.3L1690.7,732.0L1694.2,725.1L1696.7,719.1L1700.2,718.2L1704.5,709.6L1709.6,701.0L1711.4,694.2L1712.2,689.0L1731.1,697.6L1732.0,691.6L1735.4,690.7L1739.7,693.3L1742.3,697.6L1747.5,698.5L1752.6,700.2L1758.8,706.6L1754.9,715.4L1752.2,718.6L1753.3,725.2L1757.7,726.3L1761.5,724.1L1765.9,727.4L1772.4,728.5L1779.0,730.1L1784.4,732.8L1789.9,736.1L1790.4,741.6L1791.5,748.1L1793.2,755.8L1794.8,762.9L1789.9,761.8L1795.4,766.7L1797.0,771.1L1798.1,776.5L1800.8,777.8L1804.1,776.5L1806.3,777.8L1810.6,785.3L1815.0,792.4L1625.5,825.3L1558.1,833.9L1562.7,831.4L1568.8,828.8L1575.6,824.5L1579.1,820.2L1584.2,815.9L1587.7,809.9L1592.8,805.6L1598.0,800.4L1603.2,795.2L1609.9,787.9ZM1808.3,733.4L1807.9,733.8L1806.3,740.3L1806.3,740.4L1804.6,748.0L1804.6,748.1L1804.1,755.7L1804.1,755.9L1805.7,763.5L1806.8,770.1L1807.1,770.4L1807.5,770.5L1807.9,770.2L1811.1,763.7L1811.2,763.5L1813.4,754.8L1813.4,754.8L1815.5,745.0L1818.8,735.2L1821.5,729.2L1821.5,728.8L1821.2,728.5L1820.8,728.5Z" fill="#f5a3a5"/>
<path d="M1647.1,580.6L1654.8,572.0L1663.4,561.7L1670.3,553.1L1666.0,547.9L1662.5,542.8L1661.7,535.9L1668.6,531.6L1678.9,527.3L1689.2,525.2L1697.8,524.7L1704.7,527.3L1713.3,524.7L1721.9,521.3L1728.8,517.8L1733.9,511.8L1739.9,508.4L1742.9,503.2L1741.7,497.2L1737.4,493.7L1733.9,492.9L1737.0,489.4L1734.8,486.0L1735.6,480.8L1739.1,475.7L1744.2,468.8L1747.7,461.9L1752.8,453.3L1758.0,446.4L1764.9,440.4L1770.0,437.0L1782.1,433.5L1813.0,428.9L1812.9,428.6L1814.7,433.8L1815.8,440.6L1818.1,447.5L1819.8,454.4L1821.0,461.3L1822.7,468.2L1824.4,475.0L1825.0,481.9L1825.5,486.5L1829.0,484.2L1830.7,491.1L1833.0,500.3L1835.3,509.4L1837.6,519.2L1838.2,549.6L1842.6,568.7L1846.6,584.1L1843.1,587.0L1840.3,590.5L1842.0,593.3L1842.6,599.6L1848.3,597.3L1855.2,595.0L1860.9,592.7L1866.6,590.5L1872.4,588.2L1877.0,585.9L1881.5,582.4L1885.0,579.0L1886.1,576.7L1883.8,579.6L1885.6,581.3L1889.6,579.0L1893.0,578.4L1895.9,577.8L1891.9,581.3L1886.1,585.9L1880.4,590.5L1874.7,595.0L1868.9,599.6L1863.2,603.6L1857.5,606.5L1851.7,608.8L1846.0,611.1L1840.3,614.0L1835.7,616.3L1831.7,618.9L1830.2,617.1L1832.2,613.4L1834.3,608.8L1835.1,601.9L1835.7,595.6L1807.6,587.0L1807.0,586.6L1802.7,584.0L1796.7,580.6L1794.1,575.4L1790.7,569.4L1782.1,564.8L1648.8,590.1L1647.1,580.6Z" fill="#f2807b"/>
<path d="M1838.2,549.6L1857.7,545.6L1858.8,546.7L1860.5,545.0L1889.8,539.3L1895.5,566.2L1890.9,569.1L1885.2,571.4L1879.4,574.2L1873.7,576.5L1868.0,579.4L1863.4,581.7L1858.8,584.5L1863.2,579.6L1857.5,582.4L1852.9,585.9L1848.3,589.3L1844.9,592.2L1842.0,593.3L1840.3,590.5L1843.1,587.0L1846.6,584.1L1842.6,568.7L1838.2,549.6Z" fill="#f59e9d"/>
<path d="M1889.8,539.3L1902.9,538.1L1905.2,541.5L1909.3,546.1L1911.5,548.4L1915.0,553.6L1913.3,554.7L1909.3,557.0L1904.7,560.5L1900.1,563.3L1895.5,566.2L1889.8,539.3Z" fill="#f5a5a7"/>
<path d="M1837.6,519.2L1859.9,513.1L1896.1,506.0L1898.9,504.3L1900.1,501.4L1903.5,499.1L1907.0,497.1L1909.3,495.7L1911.5,499.1L1916.1,502.0L1915.6,504.9L1912.7,507.1L1911.5,511.7L1909.8,515.2L1910.4,518.6L1912.7,520.9L1916.1,522.1L1919.6,525.5L1923.0,528.9L1924.2,532.4L1927.6,535.8L1932.2,537.0L1937.9,537.5L1942.5,535.8L1945.4,533.5L1945.9,530.1L1943.7,526.6L1941.4,523.8L1937.3,523.2L1939.1,522.4L1942.5,523.5L1945.4,527.6L1947.7,532.9L1948.8,539.3L1948.2,541.5L1945.9,538.1L1942.5,539.8L1936.8,542.7L1931.0,546.1L1927.0,547.9L1924.7,546.1L1921.9,550.7L1918.4,551.9L1915.0,553.6L1911.5,548.4L1909.3,546.1L1905.2,541.5L1902.9,538.1L1889.8,539.3L1860.5,545.0L1858.8,546.7L1857.7,545.6L1838.2,549.6L1837.6,519.2ZM1947.1,555.9L1947.2,555.8L1951.3,554.7L1951.6,554.3L1952.2,552.0L1952.2,551.6L1951.8,551.3L1951.4,551.4L1949.2,552.5L1943.4,555.0L1943.2,555.3L1943.1,555.7L1943.3,556.0L1943.7,556.1ZM1932.5,555.2L1932.6,555.1L1934.9,552.2L1935.0,551.8L1934.8,551.4L1934.4,551.3L1929.2,552.5L1928.9,552.7L1925.4,557.9L1925.4,558.3L1925.7,558.7L1926.1,558.7Z" fill="#f49794"/>
<path d="M1812.9,428.6L1865.7,415.4L1865.7,420.0L1866.8,423.4L1869.1,428.0L1869.1,433.8L1866.8,438.3L1863.4,441.8L1859.9,444.1L1858.8,448.7L1859.4,454.4L1858.8,460.1L1857.7,468.2L1856.5,475.0L1855.4,479.6L1856.5,484.2L1857.7,491.1L1858.8,498.0L1858.8,503.7L1857.1,507.1L1858.8,510.6L1859.9,513.1L1837.6,519.2L1835.3,509.4L1833.0,500.3L1830.7,491.1L1829.0,484.2L1825.5,486.5L1825.0,481.9L1824.4,475.0L1822.7,468.2L1821.0,461.3L1819.8,454.4L1818.1,447.5L1815.8,440.6L1814.7,433.8L1812.9,428.6Z" fill="#f6adb2"/>
<path d="M1865.7,415.4L1868.4,401.4L1872.0,402.0L1876.8,397.8L1881.2,420.0L1889.8,445.2L1897.8,470.5L1902.9,479.6L1905.8,482.5L1907.5,485.4L1909.8,487.7L1909.3,495.7L1907.0,497.1L1903.5,499.1L1900.1,501.4L1898.9,504.3L1896.1,506.0L1859.9,513.1L1858.8,510.6L1857.1,507.1L1858.8,503.7L1858.8,498.0L1857.7,491.1L1856.5,484.2L1855.4,479.6L1856.5,475.0L1857.7,468.2L1858.8,460.1L1859.4,454.4L1858.8,448.7L1859.9,444.1L1863.4,441.8L1866.8,438.3L1869.1,433.8L1869.1,428.0L1866.8,423.4L1865.7,420.0L1865.7,415.4Z" fill="#f8c8d4"/>
<path d="M1876.8,397.8L1879.7,400.2L1881.5,396.6L1882.5,390.6L1885.7,391.8L1883.9,388.3L1883.0,385.3L1885.1,381.1L1888.1,376.3L1889.3,371.5L1891.1,368.5L1889.3,363.2L1888.1,358.4L1887.5,353.6L1889.3,347.6L1890.5,341.7L1889.9,334.5L1892.9,326.1L1895.9,317.8L1899.4,305.8L1902.4,298.7L1907.2,298.4L1908.4,301.7L1910.2,305.2L1913.8,305.8L1918.6,301.7L1923.3,298.7L1927.5,295.7L1931.1,294.5L1936.5,296.9L1941.3,299.9L1945.4,302.0L1947.2,305.8L1950.8,316.6L1954.4,327.3L1958.0,338.1L1961.0,347.6L1962.8,355.4L1966.3,358.4L1972.3,359.0L1974.7,362.0L1975.9,366.8L1978.3,371.5L1981.9,375.1L1985.4,373.3L1988.4,375.1L1992.0,379.9L1996.2,384.7L1993.8,389.4L1990.2,394.2L1986.6,398.4L1984.8,402.6L1981.9,402.6L1978.3,405.6L1975.9,409.2L1972.3,411.5L1968.7,415.1L1968.1,419.3L1965.7,424.1L1962.2,426.5L1958.0,429.5L1952.0,432.4L1949.6,428.9L1947.2,426.5L1945.4,428.9L1946.0,433.6L1943.6,438.4L1940.1,442.0L1936.5,445.0L1966.0,423.4L1962.0,425.7L1958.6,428.0L1954.0,430.9L1950.5,430.3L1948.2,426.3L1945.4,427.5L1947.1,431.5L1943.7,437.2L1939.1,440.6L1935.6,444.1L1931.0,447.5L1927.6,451.0L1923.6,453.3L1919.6,456.7L1917.9,461.3L1915.0,465.9L1914.4,471.6L1911.5,476.2L1911.0,481.9L1909.8,487.7L1907.5,485.4L1905.8,482.5L1902.9,479.6L1897.8,470.5L1889.8,445.2L1881.2,420.0L1876.8,397.8Z" fill="#f6adb2"/>
<path d="M1625.5,825.3L1815.0,792.4L1819.9,801.2L1827.1,811.4L1833.3,821.7L1836.7,831.9L1838.0,840.1L1837.3,843.8L1830.2,848.3L1822.0,856.5L1814.8,865.7L1810.7,874.9L1803.6,873.9L1797.4,875.3L1789.2,880.0L1781.0,887.2L1773.9,897.4L1769.8,907.7L1767.7,916.9L1760.6,916.9L1754.4,918.9L1747.9,921.6L1704.1,889.5L1665.4,893.8L1658.2,885.2L1653.9,882.3L1607.5,888.1L1586.0,899.3L1545.5,903.6L1545.5,895.0L1549.0,892.4L1553.3,889.0L1554.1,883.8L1558.4,879.5L1565.3,877.8L1570.5,874.4L1575.6,870.9L1580.8,866.6L1586.0,864.0L1589.4,858.9L1592.8,853.7L1598.0,855.4L1603.2,852.0L1607.5,847.7L1611.8,846.8L1615.2,845.1L1618.6,840.0L1621.2,834.8L1624.7,833.1L1625.5,825.3Z" fill="#f49794"/>
<path d="M1586.0,899.3L1607.5,888.1L1653.9,882.3L1658.2,885.2L1665.4,893.8L1704.1,889.5L1747.9,921.6L1740.1,930.2L1733.9,938.4L1731.9,946.6L1731.9,952.7L1728.8,956.8L1725.8,960.9L1720.6,964.0L1718.6,969.1L1713.5,975.2L1707.3,981.4L1701.2,987.5L1694.0,991.6L1692.0,996.7L1685.8,999.8L1682.8,1002.9L1680.7,1010.0L1672.5,1009.0L1674.5,1010.2L1671.6,1003.0L1665.9,995.8L1658.7,987.2L1651.5,974.3L1642.9,965.7L1635.8,960.0L1598.0,924.2L1591.1,917.4L1584.2,912.2L1580.8,907.0L1586.0,899.3Z" fill="#f06655"/>
<path d="M1114.8,340.9L1172.7,340.9L1172.7,325.4L1181.3,326.0L1184.2,337.5L1187.0,348.9L1195.6,353.2L1207.1,354.7L1212.8,359.0L1221.4,356.1L1232.9,354.7L1240.0,357.7L1243.8,358.2L1244.2,360.5L1248.0,362.4L1249.4,366.2L1251.7,370.8L1253.6,367.1L1256.9,365.7L1260.7,366.2L1263.0,368.5L1268.2,370.8L1271.0,373.7L1275.2,376.5L1280.4,376.0L1284.1,374.1L1288.8,370.4L1294.0,368.0L1296.3,371.3L1298.7,374.1L1305.7,373.4L1313.2,373.2L1317.0,374.1L1319.8,376.0L1323.6,376.9L1328.3,376.2L1332.5,375.8L1326.4,379.3L1319.8,383.1L1313.2,385.9L1307.6,388.7L1301.0,393.8L1295.4,399.0L1289.8,404.2L1285.1,409.3L1260.3,433.8L1255.8,459.9L1239.3,480.5L1245.0,492.9L1242.9,516.0L1258.0,523.9L1276.7,542.0L1290.1,551.9L1292.4,566.5L1260.8,567.9L1229.2,569.0L1197.6,569.7L1166.0,570.1L1134.3,570.1L1134.7,494.6L1123.0,481.9L1131.6,467.8L1131.6,465.3L1126.3,444.3L1124.1,423.5L1123.7,402.6L1118.3,381.8L1115.7,361.0L1113.7,340.3Z" fill="#f5adb3"/>
<path d="M1134.3,570.1L1166.0,570.1L1197.6,569.7L1229.2,569.0L1260.8,567.9L1292.4,566.5L1295.5,587.4L1303.8,599.6L1312.2,607.6L1328.0,623.6L1328.1,636.2L1320.5,649.4L1303.5,652.4L1302.8,667.3L1301.8,680.0L1292.8,688.9L1283.7,689.6L1156.5,693.6L1153.3,679.7L1151.1,667.1L1150.1,656.5L1144.8,646.0L1140.2,633.3L1137.2,620.7L1134.1,612.6L1131.2,597.5L1134.3,586.9L1130.4,578.5L1129.8,570.1L1134.3,570.1Z" fill="#f5a9ae"/>
<path d="M1260.3,433.8L1277.5,430.9L1297.1,421.6L1300.8,436.0L1309.6,437.6L1336.2,446.3L1360.3,457.1L1378.4,464.1L1387.1,480.1L1395.6,492.0L1385.7,516.0L1402.4,501.9L1412.6,484.1L1401.9,512.5L1400.8,533.7L1393.7,563.8L1399.1,601.4L1370.2,603.8L1341.2,605.8L1312.2,607.6L1303.8,599.6L1295.5,587.4L1292.4,566.5L1290.1,551.9L1276.7,542.0L1258.0,523.9L1242.9,516.0L1245.0,492.9L1239.3,480.5L1255.8,459.9L1260.3,433.8Z" fill="#f5a5a7"/>
<path d="M1312.2,607.6L1341.2,605.8L1370.2,603.8L1399.1,601.4L1405.5,622.0L1410.5,632.1L1415.7,680.0L1420.0,731.6L1418.3,736.8L1419.1,741.9L1422.6,748.8L1423.9,755.7L1420.8,762.6L1418.3,771.2L1414.0,778.0L1410.2,783.2L1410.9,790.1L1408.8,798.7L1406.2,804.7L1407.9,810.7L1403.6,813.3L1398.5,815.9L1396.8,820.2L1399.3,826.2L1397.6,829.6L1391.6,829.6L1383.0,826.2L1378.7,829.6L1377.1,836.7L1372.4,835.6L1367.7,831.7L1363.7,824.6L1366.1,819.9L1363.7,813.7L1362.9,806.6L1356.7,803.5L1349.6,798.7L1345.7,796.4L1338.6,791.7L1333.1,786.2L1333.9,779.9L1337.8,773.6L1337.0,766.6L1340.2,760.3L1333.9,756.4L1327.6,755.6L1323.7,758.7L1320.6,752.4L1319.8,746.1L1315.1,739.9L1308.8,734.4L1301.7,728.9L1296.2,722.6L1293.1,714.7L1291.5,706.1L1293.9,699.0L1289.2,693.6L1283.7,689.6L1292.8,688.9L1301.8,680.0L1302.8,667.3L1303.5,652.4L1320.5,649.4L1328.1,636.2L1328.0,623.6L1312.2,607.6Z" fill="#f17f77"/>
<path d="M1410.5,632.1L1420.9,636.7L1432.0,629.7L1452.9,628.5L1473.7,627.1L1494.6,625.5L1508.6,733.7L1507.7,738.5L1510.3,741.9L1509.4,746.2L1503.4,747.9L1498.2,750.5L1493.1,752.2L1491.4,755.7L1489.6,761.7L1486.2,764.3L1485.3,769.4L1481.0,772.9L1478.5,776.3L1477.6,782.3L1474.2,784.9L1469.0,783.2L1463.8,779.8L1460.4,783.2L1458.7,788.4L1454.4,790.9L1448.4,788.4L1443.2,791.8L1440.6,797.0L1435.5,794.4L1429.4,792.7L1424.3,791.8L1419.1,793.5L1412.2,794.4L1408.8,798.7L1410.9,790.1L1410.2,783.2L1414.0,778.0L1418.3,771.2L1420.8,762.6L1423.9,755.7L1422.6,748.8L1419.1,741.9L1418.3,736.8L1420.0,731.6L1415.7,680.0L1410.5,632.1Z" fill="#f2807a"/>
<path d="M1432.0,629.7L1440.5,614.5L1446.7,584.2L1434.2,551.6L1432.5,534.9L1437.0,504.9L1448.9,491.0L1455.7,498.7L1459.7,481.4L1470.5,471.7L1470.2,457.0L1475.8,454.2L1492.5,458.5L1511.3,466.7L1522.0,480.0L1524.5,498.7L1520.5,514.1L1516.0,525.3L1511.9,540.6L1530.1,527.3L1536.1,522.1L1541.3,520.4L1545.6,523.0L1549.0,529.0L1551.6,537.6L1555.0,546.2L1558.5,554.8L1560.2,563.4L1560.2,570.3L1558.5,578.9L1555.9,577.2L1553.3,579.7L1554.2,582.3L1551.6,587.5L1549.9,594.4L1546.4,599.5L1544.7,606.4L1541.3,611.6L1537.8,618.8L1494.6,625.5L1473.7,627.1L1452.9,628.5L1432.0,629.7ZM1388.5,396.7L1388.8,396.5L1388.9,396.0L1388.5,395.7L1382.9,394.3L1382.7,394.2L1378.5,394.4L1377.1,393.8L1376.7,393.8L1374.5,394.8L1371.3,395.7L1371.1,395.7L1368.0,397.9L1358.8,402.4L1358.7,402.4L1331.6,425.2L1309.3,437.1L1309.1,437.4L1309.1,437.8L1309.4,438.1L1336.0,446.8L1360.1,457.6L1360.1,457.7L1378.0,464.5L1386.7,480.4L1386.7,480.5L1395.1,492.3L1395.4,492.6L1395.8,492.5L1396.1,492.3L1402.3,479.1L1410.9,463.9L1422.4,464.8L1422.9,464.6L1430.5,453.5L1456.0,448.7L1475.4,452.7L1475.9,452.6L1482.6,447.6L1496.2,439.6L1496.5,439.2L1496.4,438.8L1484.5,425.5L1484.2,425.3L1476.8,424.2L1461.4,415.5L1461.0,415.5L1432.8,422.8L1432.6,422.8L1416.4,432.8L1396.3,430.6L1386.5,417.0L1386.2,416.8L1385.9,416.8L1372.2,422.1L1366.8,418.8L1371.5,410.6L1382.6,397.8L1384.7,397.4ZM1343.1,382.2L1343.5,382.1L1348.2,379.8L1348.4,379.7L1351.1,376.9L1354.8,374.6L1354.9,374.6L1359.1,371.8L1359.2,371.6L1361.6,368.3L1361.7,368.2L1362.1,366.6L1362.1,366.2L1361.8,365.9L1361.4,365.9L1357.1,368.0L1357.0,368.1L1351.4,372.8L1345.8,376.5L1345.8,376.5L1340.6,380.3L1340.4,380.6L1340.5,381.0L1340.7,381.2Z" fill="#f17970"/>
<path d="M474.5,1084.4L465.5,1080.3L457.3,1082.0L447.5,1081.1L439.3,1079.5L431.1,1078.7L422.9,1080.3L414.7,1074.6L404.9,1071.3L398.3,1072.9L394.2,1066.4L388.5,1072.1L380.3,1072.9L373.7,1078.7L367.2,1079.5L360.6,1085.2L357.3,1092.6L352.4,1095.9L341.8,1097.5L338.5,1103.3L343.4,1108.2L347.5,1115.5L352.4,1122.1L356.5,1128.6L359.8,1131.9L365.5,1137.7L359.0,1139.3L350.8,1138.5L349.2,1131.9L341.0,1132.7L331.1,1136.0L322.9,1140.1L327.0,1145.0L332.0,1146.7L329.5,1152.4L332.8,1157.3L341.0,1159.8L350.8,1163.1L357.3,1159.8L363.9,1159.0L364.7,1163.1L359.8,1164.7L362.3,1171.2L360.6,1176.2L354.1,1177.8L350.8,1176.2L347.5,1181.9L339.3,1180.3L333.6,1186.0L328.7,1194.2L323.8,1199.1L324.6,1205.7L327.0,1209.8L328.7,1215.5L327.9,1218.8L332.8,1227.0L337.7,1228.6L344.2,1226.1L346.7,1230.2L349.2,1236.8L348.3,1246.6L354.1,1248.3L362.3,1245.8L367.2,1248.3L370.5,1254.0L373.7,1249.1L378.6,1250.7L384.4,1249.1L381.9,1254.8L380.3,1263.0L377.0,1269.6L372.1,1276.1L365.5,1281.0L359.0,1285.9L340.9,1289.5L332.3,1295.2L323.7,1299.5L315.1,1305.3L320.8,1306.7L329.4,1302.4L338.0,1298.1L346.6,1292.4L352.4,1293.8L358.1,1289.5L370.5,1285.9L378.6,1277.8L386.8,1271.2L391.8,1266.3L398.3,1259.7L404.9,1253.2L408.1,1243.3L411.7,1240.1L417.3,1232.9L422.2,1225.5L427.1,1218.9L433.5,1214.0L436.3,1215.8L430.4,1221.4L426.0,1228.6L423.4,1236.8L424.5,1243.3L429.4,1240.9L434.4,1236.8L440.9,1231.9L454.0,1228.6L457.3,1226.1L472.0,1222.9L481.9,1225.3L490.1,1223.7L501.5,1225.3L511.4,1226.1L521.2,1230.2L529.4,1235.2L535.9,1238.4L544.1,1241.7L552.3,1251.5L562.2,1261.4L568.7,1267.9L575.3,1272.8L581.8,1279.4L588.4,1278.6L594.9,1272.8L599.8,1274.5L602.3,1267.9L600.7,1256.5L593.3,1253.2L581.8,1253.2L568.7,1243.3L557.2,1230.2L549.1,1222.0L542.5,1216.3L535.9,1222.0L529.4,1231.9L524.5,1228.6L514.6,1220.4L511.4,1216.3L499.9,1217.9ZM420.1,1263.2L422.6,1257.5L422.6,1257.1L422.4,1256.8L418.3,1254.3L417.8,1254.3L417.5,1254.6L414.3,1261.0L407.8,1265.8L407.8,1265.9L402.0,1270.8L401.9,1271.3L402.7,1276.2L402.9,1276.6L406.2,1279.0L406.5,1279.1L406.8,1279.0L413.3,1274.9L413.4,1274.9L419.1,1270.0L419.3,1269.6ZM394.0,1305.6L393.9,1305.6L389.9,1305.9L389.5,1306.0L389.4,1306.4L389.5,1306.8L390.1,1307.4L390.4,1307.5L393.9,1307.8L394.0,1307.8L397.4,1307.5L397.8,1307.4L398.3,1306.8L398.5,1306.4L398.4,1306.0L398.0,1305.9ZM318.3,1218.0L317.9,1217.9L311.3,1219.9L310.9,1220.2L311.0,1220.7L316.0,1227.0L316.4,1227.2L321.4,1226.7L321.8,1226.3L323.5,1221.4L323.5,1221.0L323.2,1220.7ZM310.4,1173.9L310.7,1173.7L310.8,1173.3L310.6,1173.0L305.4,1168.7L305.4,1168.6L299.7,1164.3L299.3,1164.2L293.6,1164.2L293.1,1164.5L293.1,1165.0L294.5,1168.7L294.7,1169.0L300.5,1172.4L300.5,1172.4L306.2,1175.3L306.7,1175.3ZM309.7,1309.1L309.9,1308.7L309.8,1308.3L309.4,1308.2L306.5,1307.9L306.4,1307.9L303.6,1308.2L303.2,1308.3L303.1,1308.7L303.2,1309.1L303.8,1309.7L304.1,1309.8L306.4,1310.1L306.6,1310.1L308.9,1309.8L309.2,1309.7ZM286.2,1314.8L277.6,1317.6L277.3,1317.9L277.3,1318.3L277.5,1318.6L280.3,1320.9L280.9,1321.0L292.3,1317.3L292.4,1317.2L301.6,1312.3L301.9,1312.0L301.8,1311.5L301.4,1311.3L295.1,1310.5L294.8,1310.5ZM267.9,1320.3L268.0,1319.9L267.9,1319.5L267.5,1319.3L263.5,1319.1L263.4,1319.1L259.4,1319.3L259.1,1319.5L258.9,1319.9L259.1,1320.3L259.7,1320.8L260.0,1321.0L263.4,1321.3L263.5,1321.3L267.0,1321.0L267.3,1320.8ZM252.1,1319.3L252.0,1319.3L249.1,1319.6L248.7,1319.8L248.6,1320.2L248.8,1320.6L249.3,1321.1L249.7,1321.3L252.0,1321.6L252.1,1321.6L254.4,1321.3L254.7,1321.1L255.3,1320.6L255.4,1320.2L255.3,1319.8L254.9,1319.6ZM240.6,1319.3L240.5,1319.3L236.5,1319.6L236.1,1319.8L236.0,1320.2L236.1,1320.6L236.7,1321.1L237.1,1321.3L240.5,1321.6L240.6,1321.6L244.0,1321.3L244.4,1321.1L245.0,1320.6L245.1,1320.2L245.0,1319.8L244.6,1319.6ZM229.3,1319.5L229.6,1319.2L229.5,1318.7L229.1,1318.5L220.5,1317.6L220.2,1317.7L220.0,1318.0L220.0,1318.4L220.2,1318.7L224.5,1320.9L225.0,1321.0ZM193.5,1312.5L193.1,1312.5L192.7,1312.8L192.8,1313.3L194.2,1316.1L194.5,1316.4L203.1,1320.1L203.4,1320.1L210.6,1318.7L210.9,1318.5L211.0,1318.1L210.9,1317.8L210.5,1317.6L209.3,1317.4L209.1,1317.3L207.2,1317.1L200.6,1316.2ZM186.1,1309.9L186.0,1309.9L182.0,1310.2L181.7,1310.3L181.5,1310.7L181.7,1311.1L182.2,1311.7L182.6,1311.8L186.0,1312.1L186.1,1312.1L189.6,1311.8L189.9,1311.7L190.5,1311.1L190.6,1310.7L190.5,1310.3L190.1,1310.2ZM179.3,1306.8L179.5,1306.4L179.3,1306.0L179.0,1305.9L176.1,1305.6L176.0,1305.6L173.1,1305.9L172.8,1306.0L172.6,1306.4L172.8,1306.8L173.4,1307.4L173.7,1307.5L176.0,1307.8L176.1,1307.8L178.4,1307.5L178.7,1307.4ZM170.4,1302.5L170.6,1302.1L170.4,1301.7L170.1,1301.6L166.0,1301.3L166.0,1301.3L162.0,1301.6L161.6,1301.7L161.4,1302.1L161.6,1302.5L162.2,1303.1L162.5,1303.2L166.0,1303.5L166.1,1303.5L169.5,1303.2L169.8,1303.1ZM160.7,1295.3L160.8,1295.0L160.7,1294.6L160.3,1294.4L157.5,1294.1L157.4,1294.1L154.5,1294.4L154.1,1294.6L154.0,1295.0L154.2,1295.3L154.7,1295.9L155.0,1296.1L157.3,1296.3L157.5,1296.3L159.8,1296.1L160.1,1295.9ZM148.8,1288.4L148.8,1288.4L144.8,1288.7L144.4,1288.8L144.2,1289.2L144.4,1289.6L145.0,1290.2L145.3,1290.3L148.8,1290.6L148.9,1290.6L152.3,1290.3L152.6,1290.2L153.2,1289.6L153.4,1289.2L153.2,1288.8L152.9,1288.7ZM141.7,1281.2L141.6,1281.2L138.7,1281.5L138.4,1281.7L138.2,1282.1L138.4,1282.4L139.0,1283.0L139.3,1283.2L141.6,1283.4L141.7,1283.4L144.0,1283.2L144.3,1283.0L144.9,1282.4L145.1,1282.1L144.9,1281.7L144.6,1281.5ZM138.9,1275.3L139.0,1274.9L138.9,1274.5L138.5,1274.3L134.5,1274.0L134.4,1274.0L130.4,1274.3L130.1,1274.5L129.9,1274.9L130.1,1275.3L130.6,1275.8L131.0,1276.0L134.4,1276.3L134.5,1276.3L138.0,1276.0L138.3,1275.8ZM127.6,1266.5L127.9,1266.0L127.8,1266.0L128.2,1266.0L128.6,1265.8L129.1,1265.2L129.3,1264.9L129.2,1264.5L128.8,1264.3L125.9,1264.0L125.8,1264.0L125.7,1264.0L124.8,1263.3L124.4,1263.1L124.0,1263.4L123.9,1263.8L124.0,1264.2L122.9,1264.3L122.6,1264.5L122.5,1264.9L122.6,1265.2L123.2,1265.8L123.5,1266.0L124.5,1266.1L124.8,1267.3L125.1,1267.6L125.6,1267.6Z" fill="#f49e9d"/>
<path d="M799.2,1265.4L803.5,1266.8L809.3,1271.1L816.4,1273.3L823.6,1277.6L829.3,1283.3L832.9,1289.8L837.9,1293.3L841.5,1296.9L835.1,1301.2L827.9,1306.2L820.7,1310.5L813.6,1314.8L808.6,1320.6L803.5,1317.7L800.0,1314.8L799.5,1307.7L798.5,1300.5L795.7,1293.3L792.8,1287.6L796.4,1281.9L800.0,1276.1L798.5,1270.4ZM775.2,1244.3L777.2,1249.1L777.3,1249.3L780.2,1252.4L780.7,1252.6L786.4,1251.6L786.5,1251.6L792.2,1250.2L792.6,1249.9L794.7,1245.6L794.8,1245.2L794.6,1244.9L791.0,1241.3L790.9,1241.3L785.2,1237.7L784.8,1237.6L779.1,1238.3L779.1,1238.3L775.8,1239.0L773.1,1235.7L772.8,1235.5L769.2,1234.7L768.8,1234.8L768.6,1235.2L767.9,1238.0L768.0,1238.5L770.9,1242.1L771.0,1242.2ZM771.5,1252.0L771.0,1252.0L768.1,1253.9L767.9,1254.2L767.9,1254.6L768.2,1254.9L771.1,1255.9L771.7,1255.7L773.8,1253.6L774.0,1253.3L773.9,1252.9L773.6,1252.7ZM756.1,1231.5L761.1,1233.4L761.5,1233.3L765.1,1231.5L765.3,1231.3L766.7,1228.8L766.8,1228.5L766.6,1228.1L766.3,1228.0L760.6,1227.6L754.9,1226.9L749.1,1226.1L748.9,1226.2L744.6,1227.6L744.3,1227.9L744.3,1228.4L745.7,1230.8L746.2,1231.1L750.5,1230.8ZM762.1,1245.1L762.4,1244.9L762.5,1244.5L761.8,1241.6L761.6,1241.3L758.0,1238.4L757.6,1238.3L754.0,1238.6L753.7,1238.7L753.5,1239.1L753.6,1239.4L755.8,1243.4L755.8,1243.5L758.0,1246.1L758.2,1246.3L758.6,1246.3ZM712.8,1222.7L713.3,1222.9L717.5,1222.2L721.7,1222.9L726.0,1224.3L726.4,1224.3L729.2,1222.9L729.5,1222.5L729.4,1222.0L725.8,1218.4L725.8,1218.4L721.6,1214.9L719.5,1210.0L719.4,1209.9L716.5,1206.3L716.2,1206.1L715.8,1206.2L710.8,1209.7L706.6,1211.1L706.3,1211.4L706.3,1211.8L707.7,1215.4L707.7,1215.5L709.9,1219.1L709.9,1219.1ZM652.0,1197.0L652.2,1197.1L657.2,1198.1L657.5,1198.1L662.5,1196.4L662.8,1196.1L665.0,1191.8L665.1,1191.6L665.1,1186.6L664.7,1186.0L660.4,1184.2L660.2,1184.1L654.4,1184.6L654.3,1184.6L649.2,1186.8L649.0,1187.0L646.8,1191.3L646.8,1191.9L648.3,1194.0L648.4,1194.1ZM634.9,1193.9L634.9,1193.4L634.5,1193.2L634.1,1193.3L630.5,1196.2L630.3,1196.3L628.2,1199.9L628.1,1200.3L628.3,1200.6L628.7,1200.7L630.9,1200.4L631.2,1200.2L634.1,1196.9L634.2,1196.7Z" fill="#f5a7aa"/>
</g>
<path d="M1156.5,693.6L1283.7,689.6L1289.2,693.6L1293.9,699.0L1291.5,706.1L1293.1,714.7L1296.2,722.6L1301.7,728.9L1308.8,734.4L1315.1,739.9L1319.8,746.1L1320.6,752.4L1323.7,758.7L1327.6,755.6L1333.9,756.4L1340.2,760.3L1337.0,766.6L1337.8,773.6L1333.9,779.9L1333.1,786.2L1338.6,791.7L1345.7,796.4L1349.6,798.7L1356.7,803.5L1362.9,806.6L1363.7,813.7L1366.1,819.9L1363.7,824.6L1367.7,831.7L1372.4,835.6L1377.1,836.7L1377.1,845.8L1374.7,852.1L1368.4,852.9L1364.5,855.3L1366.1,857.1L1365.3,862.3L1361.4,868.6L1361.4,874.1L1359.0,878.5L1339.4,879.6L1343.3,873.3L1347.2,866.3L1344.9,859.2L1193.9,865.3L1193.6,844.2L1195.0,751.6L1188.7,750.9L1185.5,745.4L1182.4,739.9L1177.7,734.4L1181.6,728.9L1185.5,726.5L1182.4,722.6L1176.9,721.0L1171.4,715.5L1166.7,709.3L1162.8,703.8L1159.6,699.0L1156.5,693.6Z" fill="none" stroke="#000" stroke-width="3.6" stroke-linejoin="round"/>
<g font-family="'Liberation Sans', sans-serif" font-size="26" fill="#333" text-anchor="middle" stroke="#fff" stroke-width="6" stroke-linejoin="round" paint-order="stroke">
<text x="458.4" y="324.9" textLength="36.4" lengthAdjust="spacingAndGlyphs">WA</text>
<text x="418.5" y="464.0" textLength="34.7" lengthAdjust="spacingAndGlyphs">OR</text>
<text x="596.3" y="486.9" textLength="23.3" lengthAdjust="spacingAndGlyphs">ID</text>
<text x="757.8" y="400.3" textLength="31" lengthAdjust="spacingAndGlyphs">MT</text>
<text x="797.7" y="577.2" textLength="34.4" lengthAdjust="spacingAndGlyphs">WY</text>
<text x="380.8" y="747.3" textLength="31" lengthAdjust="spacingAndGlyphs">CA</text>
<text x="491.8" y="681.9" textLength="31.5" lengthAdjust="spacingAndGlyphs">NV</text>
<text x="646.4" y="712.9" textLength="30.1" lengthAdjust="spacingAndGlyphs">UT</text>
<text x="613.5" y="920.5" textLength="30.1" lengthAdjust="spacingAndGlyphs">AZ</text>
<text x="802" y="941.4" textLength="37.3" lengthAdjust="spacingAndGlyphs">NM</text>
<text x="840.9" y="750.7" textLength="32.9" lengthAdjust="spacingAndGlyphs">CO</text>
<text x="1071.6" y="786.5" textLength="30.1" lengthAdjust="spacingAndGlyphs">KS</text>
<text x="1098.9" y="908.9" textLength="35.8" lengthAdjust="spacingAndGlyphs">OK</text>
<text x="1265.2" y="790.8" textLength="38.7" lengthAdjust="spacingAndGlyphs">MO</text>
<text x="1270.9" y="937.0" textLength="30.2" lengthAdjust="spacingAndGlyphs">AR</text>
<text x="1372" y="1023.0" textLength="34.4" lengthAdjust="spacingAndGlyphs">MS</text>
<text x="1365.5" y="716.3" textLength="18.6" lengthAdjust="spacingAndGlyphs">IL</text>
<text x="1458.2" y="713.4" textLength="24.4" lengthAdjust="spacingAndGlyphs">IN</text>
<text x="1566.5" y="683.3" textLength="37.3" lengthAdjust="spacingAndGlyphs">OH</text>
<text x="1501" y="808.6" textLength="27.9" lengthAdjust="spacingAndGlyphs">KY</text>
<text x="1645.7" y="740.6" textLength="36.4" lengthAdjust="spacingAndGlyphs">WV</text>
<text x="1709.8" y="778.5" textLength="28.6" lengthAdjust="spacingAndGlyphs">VA</text>
<text x="1715.5" y="861.1" textLength="34.4" lengthAdjust="spacingAndGlyphs">NC</text>
<text x="1474.4" y="882.6" textLength="32.1" lengthAdjust="spacingAndGlyphs">TN</text>
<text x="1668.2" y="939.3" textLength="31.5" lengthAdjust="spacingAndGlyphs">SC</text>
<text x="1588.7" y="1005.3" textLength="33" lengthAdjust="spacingAndGlyphs">GA</text>
<text x="1469" y="1013.0" textLength="28.7" lengthAdjust="spacingAndGlyphs">AL</text>
<text x="1765.7" y="703.4" textLength="34.4" lengthAdjust="spacingAndGlyphs">MD</text>
<text x="1718.7" y="633.6" textLength="31.8" lengthAdjust="spacingAndGlyphs">PA</text>
<text x="1819.7" y="641.4" textLength="29.2" lengthAdjust="spacingAndGlyphs">NJ</text>
<text x="1032.6" y="1082.7" textLength="28.7" lengthAdjust="spacingAndGlyphs">TX</text>
<text x="814.6" y="1300.0" textLength="23.7" lengthAdjust="spacingAndGlyphs">HI</text>
<text x="1295" y="1099.3" textLength="27.8" lengthAdjust="spacingAndGlyphs">LA</text>
<text x="1647.7" y="1166.7" textLength="25" lengthAdjust="spacingAndGlyphs">FL</text>
<text x="1770" y="533.0" textLength="30.9" lengthAdjust="spacingAndGlyphs">NY</text>
<text x="1841.6" y="466.4" textLength="28.6" lengthAdjust="spacingAndGlyphs">VT</text>
<text x="1887.5" y="533.5" textLength="34.4" lengthAdjust="spacingAndGlyphs">MA</text>
<text x="1927.2" y="389.4" textLength="32.8" lengthAdjust="spacingAndGlyphs">ME</text>
<text x="1021" y="407.4" textLength="33.9" lengthAdjust="spacingAndGlyphs">ND</text>
<text x="417.6" y="1177.3" textLength="33" lengthAdjust="spacingAndGlyphs">AK</text>
</g>
</svg>
<svg id="chrome" width="2130" height="1465" viewBox="0 0 2130 1465">
<defs><linearGradient id="lg" x1="0" x2="1" y1="0" y2="0">
<stop offset="0" stop-color="#ffffff"/><stop offset="0.09" stop-color="#fdeafd"/><stop offset="0.2" stop-color="#f9d3dd"/><stop offset="0.33" stop-color="#f7bcc4"/><stop offset="0.55" stop-color="#f28880"/><stop offset="0.75" stop-color="#f05a47"/><stop offset="1" stop-color="#ee2200"/>
</linearGradient></defs>
<text id="title" x="38.6" y="93.1" font-size="51" font-weight="700" fill="#333" textLength="1981.8" lengthAdjust="spacingAndGlyphs">Percentage of households experiencing low or very low food security: 2021- 2023</text>
<text x="45.3" y="158" font-size="31" fill="#333" textLength="44.8" lengthAdjust="spacingAndGlyphs">0%</text>
<path d="M147.5,129H373a5,5 0 0 1 5,5V159a5,5 0 0 1 -5,5H147.5Z" fill="url(#lg)"/>
<rect x="272" y="128.5" width="7.4" height="35.8" fill="#fff"/><rect x="274.5" y="128.5" width="2.6" height="35.8" fill="#000"/>
<text x="383.7" y="158" font-size="31" fill="#333" textLength="63.5" lengthAdjust="spacingAndGlyphs">20%</text>
<text x="36.6" y="1410.4" font-size="31.4" fill="#333" textLength="753.4" lengthAdjust="spacingAndGlyphs">Source: U.S. Census Bureau 2021 boundaries , USDA</text>
<rect x="155.3" y="1413.6" width="537" height="2.4" fill="#333"/><rect x="709.2" y="1413.6" width="80.8" height="2.4" fill="#333"/>
</svg>
<div id="tip"></div>
<svg id="tiptext" width="2130" height="1465" viewBox="0 0 2130 1465">
<g font-size="32" fill="#333" lengthAdjust="spacingAndGlyphs">
<text x="1020.8" y="461" font-weight="700" textLength="132" lengthAdjust="spacingAndGlyphs">Missouri</text>
<text x="1019.8" y="505.2" textLength="379" lengthAdjust="spacingAndGlyphs">Percentage of households</text>
<text x="1020.5" y="549.3" textLength="416.9" lengthAdjust="spacingAndGlyphs">experiencing low or very low</text>
<text x="1020.5" y="593.2" textLength="203" lengthAdjust="spacingAndGlyphs">food security:</text>
<text x="1020.4" y="637.1" textLength="91.5" lengthAdjust="spacingAndGlyphs">12.7%</text>
</g></svg>
</body></html>
